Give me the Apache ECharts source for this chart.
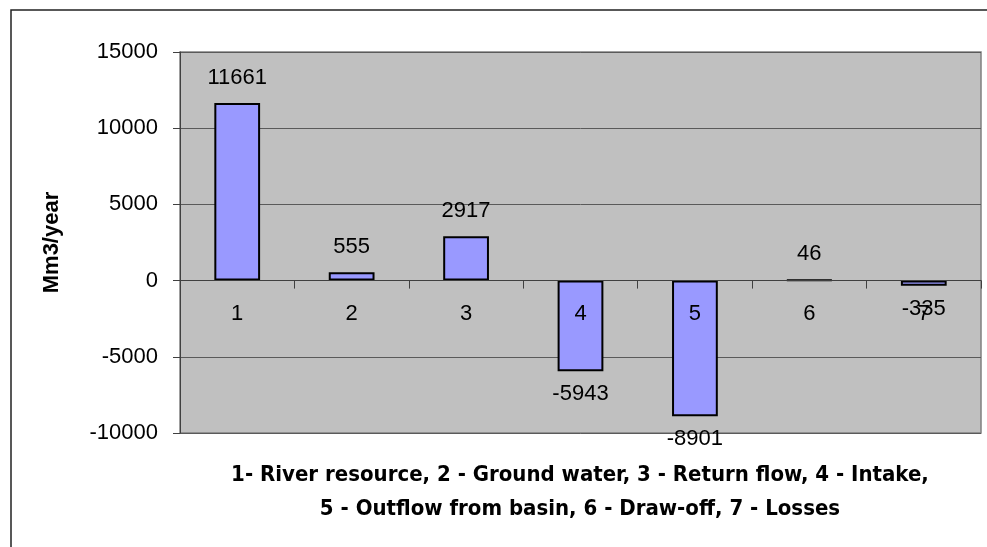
<!DOCTYPE html>
<html>
<head>
<meta charset="utf-8">
<script src="https://cdn.jsdelivr.net/npm/echarts@6/dist/echarts.min.js"></script>
<style>
  html, body { margin: 0; padding: 0; background: #fff; }
  #chart { width: 987px; height: 547px; }
</style>
</head>
<body>
<div id="chart"></div>
<script>
// Water balance components of the basin, Mm3/year
const categories = ['1', '2', '3', '4', '5', '6', '7'];
const balanceValues = [11661, 555, 2917, -5943, -8901, 46, -335];
const yTicks = { min: -10000, max: 15000, interval: 5000 };
const yAxisTitle = 'Mm3/year';
const xAxisTitle = [
  '1- River resource, 2 - Ground water, 3 - Return flow, 4 - Intake,',
  '5 - Outflow from basin, 6 - Draw-off, 7 - Losses'
];

const baseFont = 'Liberation Sans, Arial, sans-serif';
const narrowFont = '"Liberation Sans Narrow", "Arial Narrow", "DejaVu Sans Condensed", sans-serif';

const plot = { left: 180, top: 52, width: 801, height: 381 };

// The category axis sits on the zero line of the value axis
const zeroOffset = -plot.height * (0 - yTicks.min) / (yTicks.max - yTicks.min);

const chart = echarts.init(document.getElementById('chart'), null, { renderer: 'canvas' });

// Positive values get their label above the bar, negative ones below it
const barData = balanceValues.map(v => ({
  value: v,
  label: {
    position: v >= 0 ? 'top' : 'bottom',
    distance: v >= 0 ? 14 : 12
  }
}));

chart.setOption({
  backgroundColor: '#ffffff',
  animation: false,
  grid: {
    left: plot.left, top: plot.top, width: plot.width, height: plot.height,
    show: true,
    backgroundColor: '#c0c0c0',
    borderColor: '#808080',
    borderWidth: 1.5
  },
  xAxis: {
    type: 'category',
    data: categories,
    position: 'bottom',
    offset: zeroOffset,
    z: 4,
    axisLine: { onZero: false, lineStyle: { color: '#404040', width: 1 } },
    axisTick: { show: true, length: 8, inside: false, alignWithLabel: false, interval: 0,
                lineStyle: { color: '#404040' } },
    axisLabel: { interval: 0, margin: 22, fontSize: 22, color: '#000', fontFamily: baseFont },
    splitLine: { show: false }
  },
  yAxis: {
    type: 'value',
    min: yTicks.min, max: yTicks.max, interval: yTicks.interval,
    axisLine: { show: true, lineStyle: { color: '#404040', width: 1 } },
    axisTick: { show: true, length: 7, inside: false, lineStyle: { color: '#404040' } },
    axisLabel: { margin: 22, fontSize: 22, color: '#000', fontFamily: baseFont,
                 formatter: v => String(v) },
    splitLine: { show: true, lineStyle: { color: '#5a5a5a', width: 1 } },
    name: yAxisTitle,
    nameLocation: 'middle',
    nameRotate: 90,
    nameGap: 117,
    nameTextStyle: { fontSize: 22, fontWeight: 'bold', color: '#000', fontFamily: baseFont }
  },
  series: [{
    type: 'bar',
    data: barData,
    barCategoryGap: '60%',
    z: 3,
    itemStyle: { color: '#9999ff', borderColor: '#000', borderWidth: 2 },
    label: {
      show: true,
      fontSize: 22,
      color: '#000',
      fontFamily: baseFont
    }
  }],
  graphic: [
    {
      // frame lines of the chart area
      type: 'rect',
      silent: true,
      shape: { x: 11, y: 10, width: 1100, height: 700 },
      style: { fill: 'none', stroke: '#222', lineWidth: 1.5 }
    },
    {
      type: 'text',
      silent: true,
      x: 580, y: 492,
      style: {
        text: xAxisTitle.join('\n'),
        align: 'center',
        verticalAlign: 'middle',
        lineHeight: 34,
        fontSize: 22,
        fontWeight: 'bold',
        fontFamily: narrowFont,
        fill: '#000'
      }
    }
  ]
});
</script>
</body>
</html>
